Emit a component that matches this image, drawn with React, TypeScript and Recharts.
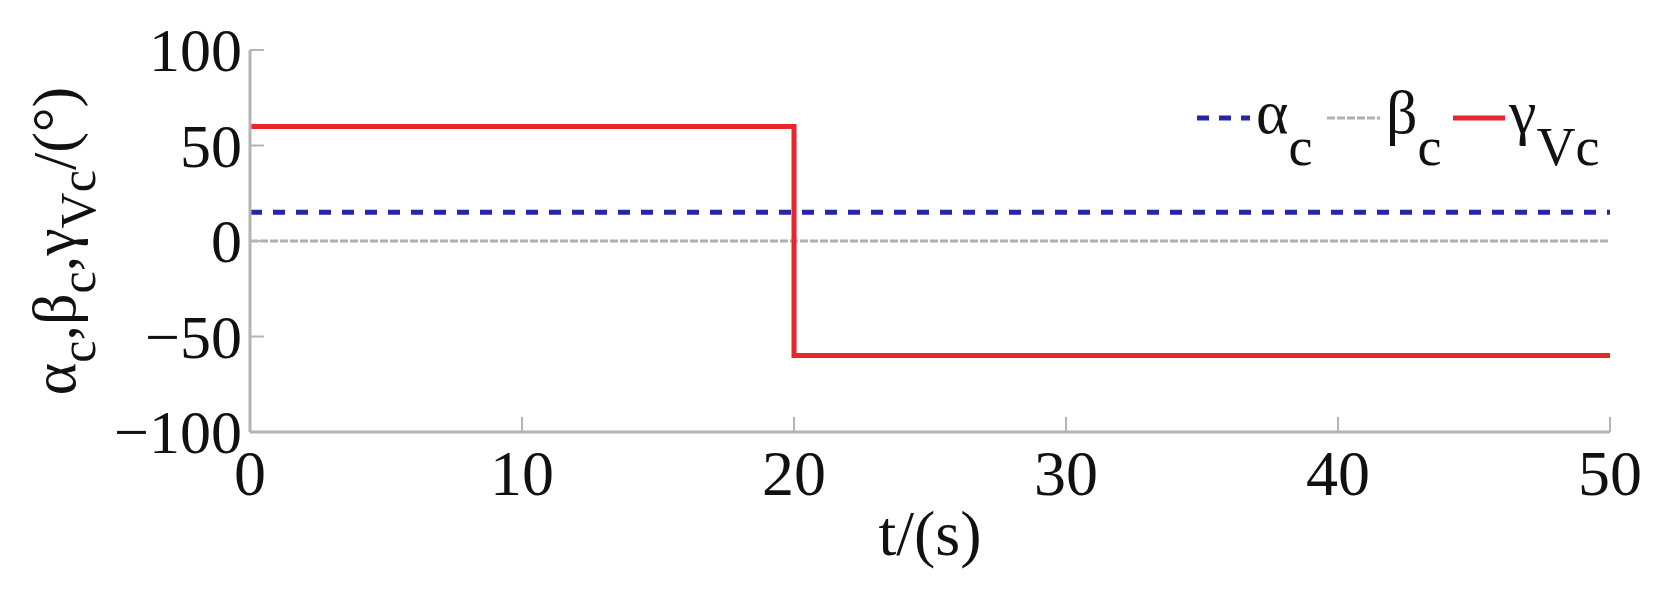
import { Label, Legend, Line, LineChart, XAxis, YAxis } from 'recharts'

const tValues = [0, 20, 20, 50]
const alphaC = [15, 15, 15, 15]
const betaC = [0, 0, 0, 0]
const gammaVc = [60, 60, -60, -60]
const xTicks = [0, 10, 20, 30, 40, 50]
const yTicks = [-100, -50, 0, 50, 100]

const data = tValues.map((t, i) => ({ t, alpha: alphaC[i], beta: betaC[i], gamma: gammaVc[i] }))

const W = 1671
const H = 593
const FONT = '"Liberation Serif", "Times New Roman", serif'
const AXIS = '#b4b4b4'
const BLUE = '#2626aa'
const GRAY = '#b0b0b0'
const RED = '#e8262b'
const Y_GAP = 8

const fmt = (v: number) => (v < 0 ? `\u2212${Math.abs(v)}` : `${v}`)

function YTick(props: any) {
  const { x, y, payload } = props
  const ax = x + Y_GAP
  return (
    <g>
      <line x1={ax} x2={ax + 14} y1={y} y2={y} stroke={AXIS} strokeWidth={2} />
      <text x={x} y={y} dy="0.34em" textAnchor="end" fontFamily={FONT} fontSize={62} fill="#111">
        {fmt(payload.value)}
      </text>
    </g>
  )
}

function XTick(props: any) {
  const { x, y, payload } = props
  return (
    <g>
      <line x1={x} x2={x} y1={y} y2={y - 15} stroke={AXIS} strokeWidth={2} />
      <text x={x} y={y + 63} textAnchor="middle" fontFamily={FONT} fontSize={64} fill="#111">
        {payload.value}
      </text>
    </g>
  )
}

function YTitle(props: any) {
  const { viewBox } = props
  const cx = viewBox.x + 75
  const cy = viewBox.y + viewBox.height / 2
  return (
    <text
      x={cx}
      y={cy}
      transform={`rotate(-90 ${cx} ${cy})`}
      textAnchor="middle"
      fontFamily={FONT}
      fontSize={62}
      fill="#111"
    >
      <tspan>α</tspan>
      <tspan dy={20} fontSize={50}>c</tspan>
      <tspan dy={-20}>,β</tspan>
      <tspan dy={20} fontSize={50}>c</tspan>
      <tspan dy={-20}>,γ</tspan>
      <tspan dy={20} fontSize={50}>Vc</tspan>
      <tspan dy={-20}>/(°)</tspan>
    </text>
  )
}

function XTitle(props: any) {
  const { viewBox } = props
  return (
    <text
      x={viewBox.x + viewBox.width / 2}
      y={555}
      textAnchor="middle"
      fontFamily={FONT}
      fontSize={64}
      fill="#111"
    >
      t/(s)
    </text>
  )
}

function LegendBox() {
  const t = { fontFamily: FONT, fontSize: 62, fill: '#111' }
  return (
    <svg width={430} height={110} style={{ display: 'block' }}>
      <line x1={7} x2={60} y1={48} y2={48} stroke={BLUE} strokeWidth={5} strokeDasharray="12 10" />
      <text x={66} y={63} {...t}>
        α<tspan dy={32} fontSize={54}>c</tspan>
      </text>
      <line x1={137} x2={190} y1={48} y2={48} stroke={GRAY} strokeWidth={3} strokeDasharray="8 2" />
      <text x={196} y={63} {...t}>
        β<tspan dy={32} fontSize={54}>c</tspan>
      </text>
      <line x1={263} x2={315} y1={48} y2={48} stroke={RED} strokeWidth={5} />
      <text x={319} y={63} {...t}>
        γ<tspan dy={32} fontSize={54}>Vc</tspan>
      </text>
    </svg>
  )
}

export default function App() {
  return (
    <div style={{ position: 'absolute', left: 0, top: 0, width: W, height: H, background: '#fff' }}>
      <LineChart width={W} height={H} data={data} margin={{ top: 50, right: 61, bottom: 0, left: 0 }}>
        <XAxis
          dataKey="t"
          type="number"
          domain={[0, 50]}
          ticks={xTicks}
          height={161}
          tickSize={0}
          tickMargin={0}
          tickLine={false}
          axisLine={{ stroke: AXIS, strokeWidth: 3 }}
          tick={<XTick />}
        >
          <Label content={<XTitle />} />
        </XAxis>
        <YAxis
          type="number"
          domain={[-100, 100]}
          ticks={yTicks}
          width={250}
          tickSize={0}
          tickMargin={Y_GAP}
          tickLine={false}
          axisLine={{ stroke: AXIS, strokeWidth: 3 }}
          tick={<YTick />}
        >
          <Label content={<YTitle />} />
        </YAxis>
        <Legend
          layout="vertical"
          align="center"
          verticalAlign="middle"
          wrapperStyle={{ left: 1190, top: 70, width: 430, height: 110 }}
          content={() => <LegendBox />}
        />
        <Line dataKey="alpha" type="linear" stroke={BLUE} strokeWidth={5} strokeDasharray="12 11" dot={false} isAnimationActive={false} />
        <Line dataKey="beta" type="linear" stroke={GRAY} strokeWidth={3} strokeDasharray="8 2" dot={false} isAnimationActive={false} />
        <Line dataKey="gamma" type="linear" stroke={RED} strokeWidth={5} dot={false} isAnimationActive={false} />
      </LineChart>
    </div>
  )
}
